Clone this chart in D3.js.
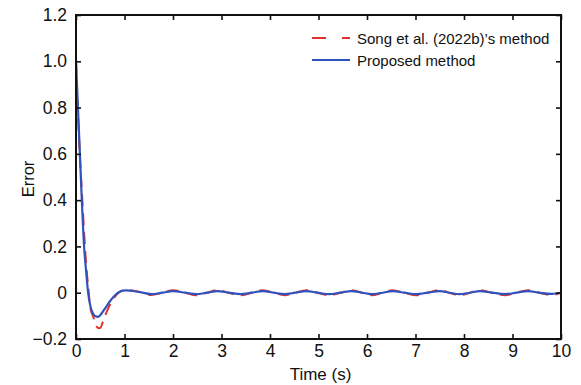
<!DOCTYPE html>
<html>
<head>
<meta charset="utf-8">
<script src="https://d3js.org/d3.v7.min.js"></script>
<style>
  body { margin: 0; background: #fff; }
  text { font-family: "Liberation Sans", Arial, sans-serif; fill: #111; }
</style>
</head>
<body>
<script>
// time samples (s)
var timeSec = [0, 0.04, 0.08, 0.12, 0.17, 0.21, 0.25, 0.3, 0.35, 0.4, 0.45, 0.5, 0.55, 0.6, 0.7, 0.8, 0.9, 1.02,
  1.3, 1.55, 1.78, 2.0, 2.25, 2.48, 2.7, 2.92, 3.15, 3.4, 3.62, 3.85, 4.08, 4.3, 4.52, 4.75, 4.98,
  5.22, 5.45, 5.68, 5.9, 6.1, 6.32, 6.53, 6.77, 7.02, 7.25, 7.5, 7.7, 7.9, 8.12, 8.33, 8.58, 8.85,
  9.08, 9.32, 9.55, 9.8, 10];

// Song et al. (2022b)'s method (red dashed)
var songError = [1.0, 0.78, 0.59, 0.44, 0.25, 0.12, 0.03, -0.07, -0.1, -0.132, -0.152, -0.152, -0.128, -0.1, -0.052, -0.018, 0.003, 0.012,
  0.004, -0.01, 0.0, 0.011, 0.0, -0.011, 0.0, 0.011, 0.0, -0.011, 0.0, 0.011, 0.0, -0.011, 0.0, 0.011, 0.0,
  -0.011, 0.0, 0.011, 0.0, -0.011, 0.0, 0.011, 0.0, -0.011, 0.0, 0.011, 0.0, -0.011, 0.0, 0.011, 0.0, -0.011,
  0.0, 0.011, 0.0, -0.01, 0.0];

// Proposed method (blue solid)
var proposedError = [1.0, 0.8, 0.6, 0.4, 0.19, 0.09, 0.0, -0.062, -0.09, -0.102, -0.104, -0.097, -0.083, -0.068, -0.037, -0.012, 0.004, 0.01,
  0.003, -0.006, 0.0, 0.007, 0.0, -0.006, 0.0, 0.007, 0.0, -0.006, 0.0, 0.007, 0.0, -0.006, 0.0, 0.007, 0.0,
  -0.006, 0.0, 0.007, 0.0, -0.006, 0.0, 0.007, 0.0, -0.006, 0.0, 0.007, 0.0, -0.006, 0.0, 0.007, 0.0, -0.006,
  0.0, 0.007, 0.0, -0.005, 0.0];

var xTicks = [0, 1, 2, 3, 4, 5, 6, 7, 8, 9, 10];
var yTicks = [-0.2, 0, 0.2, 0.4, 0.6, 0.8, 1.0, 1.2];
var legendLabels = ["Song et al. (2022b)\u2019s method", "Proposed method"];

var WIDTH = 581, HEIGHT = 385;
var margin = {left: 76, right: 20, top: 15, bottom: 46};
var x0 = margin.left, x1 = WIDTH - margin.right, y0 = margin.top, y1 = HEIGHT - margin.bottom;

var svg = d3.select('body').append('svg')
  .attr('width', WIDTH)
  .attr('height', HEIGHT);

var x = d3.scaleLinear().domain([0, 10]).range([x0, x1]);
var y = d3.scaleLinear().domain([-0.2, 1.2]).range([y1, y0]);

var fmtY = function (d) {
  if (d === 0) return '0';
  return d3.format('.1f')(d).replace('-', '\u2212');
};

svg.append('defs').append('clipPath').attr('id', 'clip')
  .append('rect').attr('x', x0).attr('y', y0).attr('width', x1 - x0).attr('height', y1 - y0);

// curves
var line = d3.line()
  .x(function (d, i) { return x(timeSec[i]); })
  .y(function (d) { return y(d); })
  .curve(d3.curveMonotoneX);

var plot = svg.append('g').attr('clip-path', 'url(#clip)');
plot.append('path').datum(songError)
  .attr('d', line)
  .attr('fill', 'none')
  .attr('stroke', '#e2322b')
  .attr('stroke-width', 2)
  .attr('stroke-dasharray', '12,7');
plot.append('path').datum(proposedError)
  .attr('d', line)
  .attr('fill', 'none')
  .attr('stroke', '#2f52bd')
  .attr('stroke-width', 2.2);

// axes: ticks inside on all four sides
var axB = svg.append('g').attr('transform', 'translate(0,' + y1 + ')')
  .call(d3.axisBottom(x).tickValues(xTicks).tickSize(-5).tickPadding(6).tickFormat(d3.format('d')));
var axT = svg.append('g').attr('transform', 'translate(0,' + y0 + ')')
  .call(d3.axisTop(x).tickValues(xTicks).tickSize(-5).tickFormat(''));
var axL = svg.append('g').attr('transform', 'translate(' + x0 + ',0)')
  .call(d3.axisLeft(y).tickValues(yTicks).tickSize(-5).tickPadding(9).tickFormat(fmtY));
var axR = svg.append('g').attr('transform', 'translate(' + x1 + ',0)')
  .call(d3.axisRight(y).tickValues(yTicks).tickSize(-5).tickFormat(''));

[axB, axT, axL, axR].forEach(function (a) {
  a.select('.domain').remove();
  a.selectAll('.tick line').attr('stroke', '#111').attr('stroke-width', 1.6);
  a.selectAll('.tick text').style('font-size', '17.5px').attr('fill', '#111');
});

svg.append('rect')
  .attr('x', x0).attr('y', y0)
  .attr('width', x1 - x0).attr('height', y1 - y0)
  .attr('fill', 'none')
  .attr('stroke', '#111')
  .attr('stroke-width', 2);

// axis titles
svg.append('text')
  .attr('x', (x0 + x1) / 2 + 2)
  .attr('y', 380)
  .attr('text-anchor', 'middle')
  .style('font-size', '17px')
  .text('Time (s)');

svg.append('text')
  .attr('transform', 'translate(34,' + ((y0 + y1) / 2 + 2) + ') rotate(-90)')
  .attr('text-anchor', 'middle')
  .style('font-size', '16.5px')
  .text('Error');

// legend
var legend = svg.append('g');
var legendY = [38, 60];
legend.append('line')
  .attr('x1', 312).attr('x2', 350).attr('y1', legendY[0]).attr('y2', legendY[0])
  .attr('stroke', '#e2322b').attr('stroke-width', 2).attr('stroke-dasharray', '14,16');
legend.append('line')
  .attr('x1', 312).attr('x2', 350).attr('y1', legendY[1]).attr('y2', legendY[1])
  .attr('stroke', '#2f52bd').attr('stroke-width', 2.2);
legend.selectAll('text.lab')
  .data(legendLabels)
  .enter()
  .append('text')
  .attr('class', 'lab')
  .attr('x', 357)
  .attr('y', function (d, i) { return legendY[i] + 5.5; })
  .style('font-size', '15px')
  .text(function (d) { return d; });
</script>
</body>
</html>
